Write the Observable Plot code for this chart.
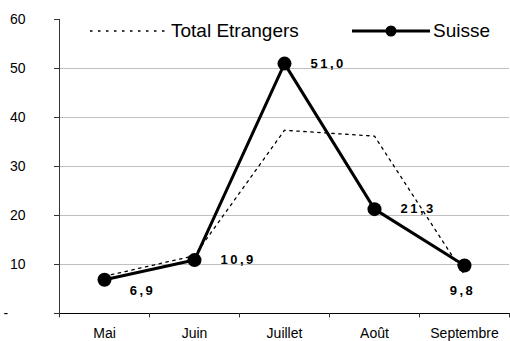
<!DOCTYPE html>
<html>
<head>
<meta charset="utf-8">
<script src="https://cdn.jsdelivr.net/npm/d3@7"></script>
<script src="https://cdn.jsdelivr.net/npm/@observablehq/plot@0.6"></script>
<style>
  body { margin: 0; background: #fff; }
  #wrap { position: relative; width: 510px; height: 341px; font-family: "Liberation Sans", Arial, sans-serif; }
  #wrap svg.legend { position: absolute; left: 0; top: 0; pointer-events: none; }
  #wrap g[font-weight="bold"] text { letter-spacing: 2.5px; }
</style>
</head>
<body>
<div id="wrap"></div>
<script>
const months = ["Mai", "Juin", "Juillet", "Août", "Septembre"];
const suisse = [6.9, 10.9, 51.0, 21.3, 9.8];
const totalEtrangers = [7.6, 11.8, 37.4, 36.2, 7.9];
const seriesNames = ["Total Etrangers", "Suisse"];
const yTicks = [0, 10, 20, 30, 40, 50, 60];
const gridTicks = [10, 20, 30, 40, 50];

const fmt = v => d3.format(".1f")(v).replace(".", ",");
const suisseData = months.map((m, i) => ({month: m, value: suisse[i], label: fmt(suisse[i])}));
const totalData = months.map((m, i) => ({month: m, value: totalEtrangers[i]}));

const labelStyle = {fontWeight: "bold", fontSize: 13, fill: "#000", text: "label"};

const chart = Plot.plot({
  width: 510,
  height: 341,
  marginLeft: 59,
  marginRight: 1,
  marginTop: 19,
  marginBottom: 28,
  style: {fontFamily: "'Liberation Sans', Arial, sans-serif", fontSize: "14px", color: "#000", background: "#fff"},
  x: {type: "band", domain: months, padding: 0, label: null},
  y: {domain: [0, 60], label: null},
  marks: [
    Plot.ruleY(gridTicks, {stroke: "#c0c0c0", strokeWidth: 1}),
    Plot.axisY({ticks: yTicks, tickSize: 5, tickPadding: 29, tickFormat: d => d === 0 ? "" : d, label: null, stroke: "#333"}),
    Plot.text([0], {y: d => d, text: () => "-", frameAnchor: "left", textAnchor: "start", dx: -56, fontSize: 14}),
    Plot.ruleX([months[0]], {y1: 0, y2: 60, dx: -45, stroke: "#333"}),
    Plot.ruleY([0], {stroke: "#000"}),
    Plot.ruleX(months, {y1: 0, y2: -0.9, dx: -45, stroke: "#333"}),
    Plot.ruleX([months[months.length - 1]], {y1: 0, y2: -0.9, dx: 45, stroke: "#333"}),
    Plot.axisX({tickSize: 0, tickPadding: 15, label: null}),
    Plot.line(totalData, {x: "month", y: "value", stroke: "#000", strokeWidth: 1.3, strokeDasharray: "2.5,4.5"}),
    Plot.line(suisseData, {x: "month", y: "value", stroke: "#000", strokeWidth: 3}),
    Plot.dot(suisseData, {x: "month", y: "value", r: 7, fill: "#000"}),
    Plot.text(suisseData.filter((d, i) => i >= 1 && i <= 3), {x: "month", y: "value", ...labelStyle, textAnchor: "start", dx: 26, dy: 0}),
    Plot.text(suisseData.filter((d, i) => i === 0), {x: "month", y: "value", ...labelStyle, textAnchor: "middle", dx: 38, dy: 11}),
    Plot.text(suisseData.filter((d, i) => i === 4), {x: "month", y: "value", ...labelStyle, textAnchor: "middle", dx: -2, dy: 25})
  ]
});

const wrap = document.getElementById("wrap");
wrap.appendChild(chart);

// legend overlay
const leg = d3.select(wrap).append("svg").attr("class", "legend").attr("width", 510).attr("height", 60);
leg.append("line").attr("x1", 90).attr("x2", 165).attr("y1", 31).attr("y2", 31)
  .attr("stroke", "#000").attr("stroke-width", 1.3).attr("stroke-dasharray", "2.5,5.5");
leg.append("text").attr("x", 171).attr("y", 37).text(seriesNames[0])
  .attr("font-size", 19).attr("font-family", "'Liberation Sans', Arial, sans-serif").attr("fill", "#000");
leg.append("line").attr("x1", 352).attr("x2", 430).attr("y1", 31).attr("y2", 31)
  .attr("stroke", "#000").attr("stroke-width", 3);
leg.append("circle").attr("cx", 391).attr("cy", 31).attr("r", 5.5).attr("fill", "#000");
leg.append("text").attr("x", 433).attr("y", 37).text(seriesNames[1])
  .attr("font-size", 19).attr("font-family", "'Liberation Sans', Arial, sans-serif").attr("fill", "#000");
</script>
</body>
</html>
